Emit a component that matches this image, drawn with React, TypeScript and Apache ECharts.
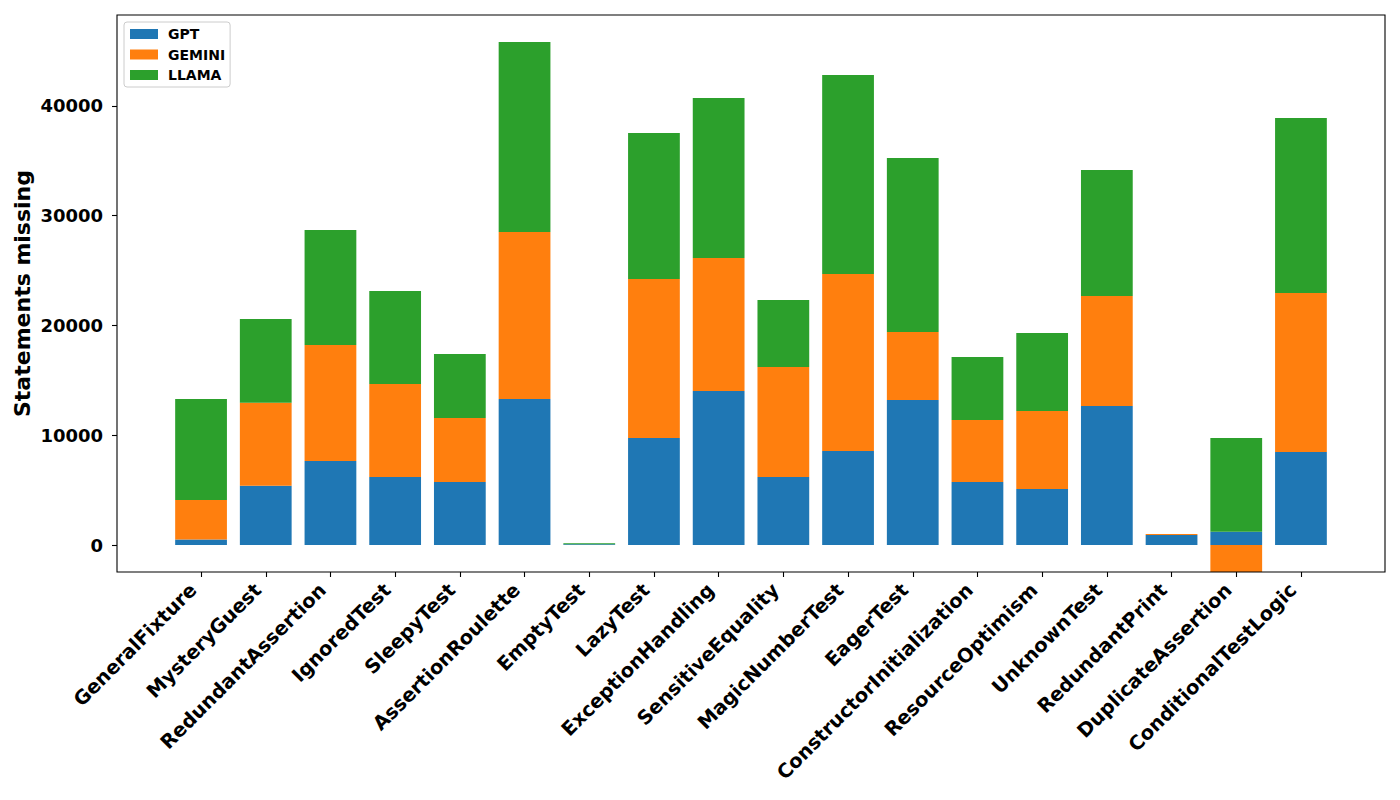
import React, { useEffect, useRef } from "react";
import * as echarts from "echarts";

const categories = [
  "GeneralFixture", "MysteryGuest", "RedundantAssertion", "IgnoredTest", "SleepyTest",
  "AssertionRoulette", "EmptyTest", "LazyTest", "ExceptionHandling", "SensitiveEquality",
  "MagicNumberTest", "EagerTest", "ConstructorInitialization", "ResourceOptimism",
  "UnknownTest", "RedundantPrint", "DuplicateAssertion", "ConditionalTestLogic",
];
const gptValues = [500, 5400, 7650, 6200, 5740, 13300, 60, 9750, 14030, 6200, 8560, 13210, 5740, 5100, 12660, 910, 1210, 8470];
const geminiValues = [3600, 7550, 10570, 8470, 5830, 15210, 10, 14480, 12120, 10020, 16130, 6190, 5650, 7110, 10020, 100, -4000, 14490];
const llamaValues = [9200, 7650, 10480, 8470, 5830, 17310, 100, 13300, 14570, 6100, 18130, 15860, 5740, 7100, 11480, 0, 8540, 15940];
const yTicks = [0, 10000, 20000, 30000, 40000];
const yMin = -2460;
const yMax = 48290;

const FONT = "DejaVu Sans";

export default function App() {
  const ref = useRef<HTMLDivElement>(null);
  useEffect(() => {
    if (!ref.current) return;
    const chart = echarts.init(ref.current, null, { renderer: "svg" });
    const mk = (name: string, data: number[], color: string) => ({
      name,
      type: "bar",
      stack: "total",
      xAxisIndex: 1,
      yAxisIndex: 1,
      data,
      barWidth: "80%",
      itemStyle: { color },
      emphasis: { disabled: true },
    });
    chart.setOption({
      animation: false,
      grid: [
        { left: 117, right: 15, top: 15, bottom: 228, show: true, borderColor: "#000", borderWidth: 1.1, backgroundColor: "transparent", z: 10 },
        { left: 168.7, width: 1164.6, top: 15, bottom: 228 },
      ],
      legend: {
        orient: "vertical",
        left: 124,
        top: 22,
        itemWidth: 28,
        itemHeight: 10,
        itemGap: 6.5,
        padding: [5, 5, 5, 6],
        borderColor: "#cccccc",
        borderWidth: 1,
        borderRadius: 3,
        backgroundColor: "#fff",
        icon: "rect",
        data: ["GPT", "GEMINI", "LLAMA"],
        textStyle: { fontFamily: FONT, fontWeight: "bold", fontSize: 14, color: "#000", padding: [0, 0, 0, 5] },
      },
      xAxis: [
        { type: "value", gridIndex: 0, show: false, min: 0, max: 1 },
        {
          type: "category",
          gridIndex: 1,
          data: categories,
          axisLine: { show: false, onZero: false },
          axisTick: { show: true, alignWithLabel: true, length: 5, lineStyle: { color: "#000", width: 1.1 } },
          axisLabel: {
            rotate: 45,
            interval: 0,
            margin: 7,
            padding: [0, 11, 0, 0],
            fontFamily: FONT,
            fontWeight: "bold",
            fontSize: 19.5,
            color: "#000",
          },
          splitLine: { show: false },
        },
      ],
      yAxis: [
        {
          type: "value",
          gridIndex: 0,
          min: yMin,
          max: yMax,
          name: "Statements missing",
          nameLocation: "middle",
          nameGap: 84,
          nameMoveOverlap: false,
          nameTextStyle: { fontFamily: FONT, fontWeight: "bold", fontSize: 22, color: "#000" },
          axisLine: { show: false },
          axisTick: { show: true, length: 5, customValues: yTicks, lineStyle: { color: "#000", width: 1.1 } },
          axisLabel: {
            customValues: yTicks,
            margin: 14,
            formatter: (v: number) => String(v),
            fontFamily: FONT,
            fontWeight: "bold",
            fontSize: 18,
            color: "#000",
          },
          splitLine: { show: false },
        },
        { type: "value", gridIndex: 1, min: yMin, max: yMax, show: false, splitLine: { show: false } },
      ],
      series: [
        mk("GPT", gptValues, "#1f77b4"),
        mk("GEMINI", geminiValues, "#ff7f0e"),
        mk("LLAMA", llamaValues, "#2ca02c"),
      ],
    });
    return () => chart.dispose();
  }, []);
  return <div ref={ref} style={{ position: "absolute", left: 0, top: 0, width: 1400, height: 800 }} />;
}
